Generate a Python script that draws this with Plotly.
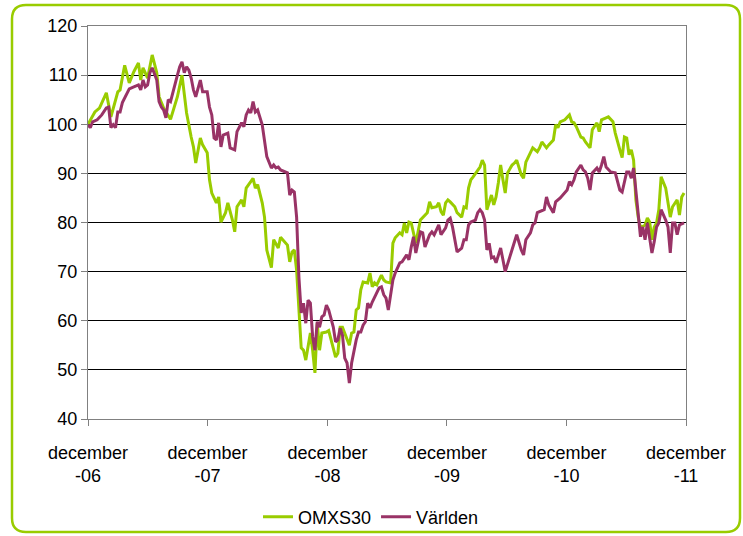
import plotly.graph_objects as go
import pandas as pd

START = pd.Timestamp("2006-12-01")

omx_weeks = [0,3,5,8,10,13,14,16,18,20,22,23,24,26,28,30,31,33,36,39,41,42,43,45,46,47,49,50,52,53,54,56,57,58,60,61,63,64,65,67,68,69,70,72,73,74,76,77,78,80,81,83,84,86,87,88,89,90,91,93,94,95,97,98,99,100,101,102,104,105,107,108,109,110,111,113,114,115,116,117,118,119,120,122,123,124,125,126,128,129,130,132,133,134,136,137,138,139,140,141,142,143,145,147,148,149,150,152,153,154,155,156,157,158,160,161,163,164,165,166,167,168,170,171,172,173,174,176,177,178,179,180,181,182,183,185,186,187,189,190,191,193,194,196,197,198,200,201,202,203,204,205,206,208,210,211,212,213,215,216,217,219,220,222,223,224,226,227,229,230,232,233,234,235,236,237,238,239,240,241,243,244,245,246,247,248,249,250,252,253,254,255,257,258,259,260]
omx_vals = [100,102.5,103.3,106.4,101.5,106.6,107,112,108.4,110.7,112.5,109,111.5,109.4,114.1,110.5,105.6,103.3,101,105.6,110,106.4,102.3,97.4,95.4,92.1,97.2,95.8,94.2,88.7,86,84,85.2,80.1,82,84,80.5,78.1,83.2,84.6,83.2,87,87.7,89,87,87.7,84,81.1,74.4,70.8,76.5,74.8,77,75.8,75.4,72,74,74.4,70.3,54.5,54,52,57.5,54,49.4,59.5,54,57.5,57.7,58,54.7,52.6,53.4,58.7,58.7,56,55,57.5,57.7,62.2,62.6,66.3,67.9,67.7,69.7,66.9,67.7,67.3,69.3,68.3,67.9,67.7,75.8,76.9,77.9,77.5,79.9,77.9,80.1,79.9,78.1,75.8,80.5,81.5,82,84.2,83,83.2,84,82.2,81.5,84,84.6,84.2,83.2,82,81.1,83.2,83,87,88.7,89.3,90.7,91.3,92.7,91.7,82.6,85.6,83.6,85.2,88.1,91.7,88.7,86,90.1,91.7,92.1,92.7,89.7,89,92.3,94.2,95.2,94.4,95.2,96.4,95.2,95.8,96.4,96.8,99.9,99.3,100.5,100.9,101.9,100.5,100.3,99.5,97.4,97.2,96.4,95.2,98.9,100.3,98.5,100.9,101.3,101.5,100.5,98.2,94.8,93.2,97.4,97.2,93.8,94.8,92.7,84.6,81.1,78.9,79.5,80.9,80.1,76.5,79.1,79.9,82.6,89.3,87,84.2,81.1,83.2,84.6,81.5,85.2,86]

varld_weeks = [0,1,2,4,6,8,9,10,11,12,13,14,15,17,18,20,22,23,24,25,26,27,28,30,31,32,33,34,35,36,37,39,40,41,42,43,44,45,46,47,49,50,52,53,54,55,56,57,58,59,61,62,64,65,67,68,69,70,71,72,73,74,76,77,78,80,81,82,83,84,86,87,88,89,90,91,92,93,94,95,96,97,98,99,100,101,102,103,104,105,107,108,109,110,111,112,113,114,115,116,117,118,119,120,121,122,123,124,126,127,128,129,130,131,133,134,136,137,139,140,141,142,143,144,145,146,147,149,150,151,152,153,154,156,157,158,159,160,161,163,164,165,166,167,169,170,171,172,173,174,175,176,177,178,180,181,182,184,185,186,187,189,190,191,193,194,195,196,197,199,200,201,203,204,206,207,209,210,211,212,213,215,216,217,218,219,220,222,223,224,225,226,228,230,231,232,233,235,236,237,238,239,240,241,242,243,244,245,246,247,248,249,250,252,253,254,255,256,257,258,260]
varld_vals = [99.9,99.3,100.5,100.9,101.9,103.3,103.5,99.3,99.9,99.3,102.5,102.5,104.4,106.4,107.2,107.6,108,107,109,107.6,108,110.5,111.5,109,104.6,103.5,102.9,101.3,105,104.6,106.6,110,111.7,112.7,110.5,111.7,111,109.4,107,105.6,109,106.6,106.6,103.5,101.9,97.2,96.8,100.3,95.4,97.8,98.2,95.2,94.8,98.5,100.3,99.5,101.9,102.9,102.3,104.6,102.5,102.9,99.9,96.4,93.4,91.1,91.7,91.1,91.3,90.7,90.3,90.1,85.6,86.6,86.2,81.1,68.9,61.6,63.6,59.5,64.2,63.6,56.7,54,59.8,58.7,60.8,61.2,63.2,62.2,58.7,55.7,56.1,58.5,57.1,52.4,51.4,47.3,51.4,54,56.1,57.7,57.7,59.1,59.8,63.6,62.6,63.8,65.7,66.7,66.9,65.3,64.6,62.2,68.3,69.7,71.8,72,73.4,72.4,75,77.1,73.8,75.8,78.1,77.9,75,77.5,78.1,77.5,78.5,79.5,77.5,78.9,80.5,80.9,79.1,76.5,74,74.8,76.5,76.5,79.5,80.1,80.5,82,82.6,82,80.5,74.4,75.8,72.8,73,71.8,74.8,72.4,70,73,74.4,75.8,77.5,74.4,73.4,76.5,77.9,79.5,79.9,82,82.2,82.6,85.2,83.6,82,84.2,85,85.6,86.6,88.3,87.7,88.7,90.3,91.7,90.7,90.3,89,86.6,90.1,91.1,90.3,91.7,93.4,91.3,90.3,90.1,88.3,86.6,86.2,90.3,90.3,89,91.1,86.6,82,77.1,79.1,76.5,79.9,76.5,73.8,76.1,79.1,79.9,82.6,80.5,79.1,73.8,79.9,79.9,77.5,79.5,79.9]

tick_dates = ["2006-12-01", "2007-12-01", "2008-12-01", "2009-12-01", "2010-12-01", "2011-12-01"]
tick_labels = ["december<br>-06", "december<br>-07", "december<br>-08",
               "december<br>-09", "december<br>-10", "december<br>-11"]

GREEN = "#99CC00"
PURPLE = "#993366"

def to_dates(weeks):
    return [START + pd.Timedelta(weeks=w) for w in weeks]

fig = go.Figure()
fig.add_trace(go.Scatter(x=to_dates(omx_weeks), y=omx_vals, mode="lines", name="OMXS30",
                         line=dict(color=GREEN, width=3)))
fig.add_trace(go.Scatter(x=to_dates(varld_weeks), y=varld_vals, mode="lines", name="Världen",
                         line=dict(color=PURPLE, width=3)))

W, H = 743, 536
L, R, T, B = 88, 57, 26, 117
pw, ph = W - L - R, H - T - B

def px(xp):
    return (xp - L) / pw

def py(yp):
    return (H - B - yp) / ph

bl, br, bt, bb, rad = 12, 740, 5, 532, 14
x0, x1, y0, y1 = px(bl), px(br), py(bb), py(bt)
rx, ry = rad / pw, rad / ph
path = (f"M {x0+rx},{y1} L {x1-rx},{y1} Q {x1},{y1} {x1},{y1-ry} "
        f"L {x1},{y0+ry} Q {x1},{y0} {x1-rx},{y0} L {x0+rx},{y0} "
        f"Q {x0},{y0} {x0},{y0+ry} L {x0},{y1-ry} Q {x0},{y1} {x0+rx},{y1} Z")

font = dict(family="Liberation Sans, Arial, sans-serif", size=18, color="black")

fig.update_layout(
    width=W, height=H, autosize=False,
    margin=dict(l=L, r=R, t=T, b=B, autoexpand=False),
    paper_bgcolor="white", plot_bgcolor="white",
    font=font,
    showlegend=True,
    legend=dict(orientation="h", x=px(371), xanchor="center", y=py(517), yanchor="middle",
                font=dict(family="Liberation Sans, Arial, sans-serif", size=18, color="black"),
                itemwidth=30, tracegroupgap=0, bgcolor="rgba(0,0,0,0)"),
    shapes=[dict(type="path", xref="paper", yref="paper", path=path,
                 line=dict(color=GREEN, width=2.5), layer="below")],
    xaxis=dict(type="date", range=["2006-12-01", "2011-12-01"],
               tickvals=tick_dates, ticktext=tick_labels,
               ticks="outside", ticklen=6, tickcolor="#808080",
               ticklabelstandoff=11,
               showgrid=False, showline=True, linecolor="#808080", linewidth=1,
               mirror=True, zeroline=False, tickfont=font, tickangle=0),
    yaxis=dict(range=[40, 120], dtick=10, tick0=40,
               ticks="outside", ticklen=6, tickcolor="#808080",
               showgrid=True, gridcolor="black", gridwidth=1,
               showline=True, linecolor="#808080", linewidth=1, mirror=True,
               zeroline=False, tickfont=font),
)

fig.write_html("out.html", config={"displayModeBar": False},
               post_script="document.body.style.margin='0';")
